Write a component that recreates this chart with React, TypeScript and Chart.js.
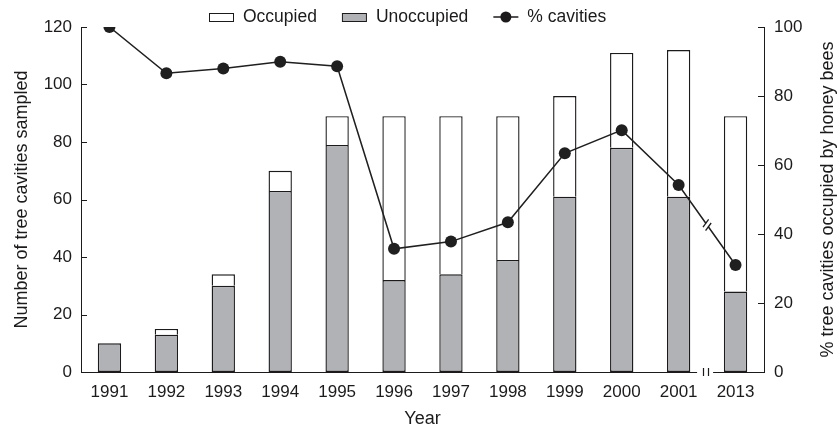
import { useEffect, useRef } from 'react';
import { Chart, registerables } from 'chart.js';

Chart.register(...registerables);

const years = ['1991', '1992', '1993', '1994', '1995', '1996', '1997', '1998', '1999', '2000', '2001', '2013'];
const unoccupied = [10, 13, 30, 63, 79, 32, 34, 39, 61, 78, 61, 28];
const occupied = [0, 2, 4, 7, 10, 57, 55, 50, 35, 33, 51, 61];
const percentOccupied = [100, 86.6, 88, 89.9, 88.6, 35.7, 37.8, 43.4, 63.4, 70.1, 54.2, 31.0];
const leftTicks = { min: 0, max: 120, step: 20 };
const rightTicks = { min: 0, max: 100, step: 20 };

const FONT = '"Liberation Sans", Arial, Helvetica, sans-serif';
const TEXT = '#1c1a1b';
const GRAY = '#b1b2b6';
const FS = 17;
const TITLE_FS = 18;
const LEGEND_FS = 17.5;

const decorPlugin = {
  id: 'decor',
  afterDatasetsDraw(chart: any) {
    const ctx = chart.ctx;
    const meta = chart.getDatasetMeta(0);
    const p1 = meta.data[10];
    const p2 = meta.data[11];
    if (!p1 || !p2) return;
    const mx = (p1.x + p2.x) / 2;
    const my = (p1.y + p2.y) / 2;
    const dx = p2.x - p1.x;
    const dy = p2.y - p1.y;
    const len = Math.hypot(dx, dy);
    const ux = dx / len, uy = dy / len;
    const nx = -uy, ny = ux;
    ctx.save();
    ctx.strokeStyle = '#ffffff';
    ctx.lineWidth = 4;
    ctx.beginPath();
    ctx.moveTo(mx - ux * 2, my - uy * 2);
    ctx.lineTo(mx + ux * 2, my + uy * 2);
    ctx.stroke();
    ctx.strokeStyle = TEXT;
    ctx.lineWidth = 1.3;
    for (const s of [-2.2, 2.2]) {
      const cx = mx + ux * s, cy = my + uy * s;
      ctx.beginPath();
      ctx.moveTo(cx - nx * 4.5 - ux * 1.5, cy - ny * 4.5 - uy * 1.5);
      ctx.lineTo(cx + nx * 4.5 + ux * 1.5, cy + ny * 4.5 + uy * 1.5);
      ctx.stroke();
    }
    ctx.restore();
  },
  afterDraw(chart: any) {
    const ctx = chart.ctx;
    const area = chart.chartArea;
    const xs = chart.scales.x;
    ctx.save();
    // axis break on the x axis between 2001 and 2013
    const bx = (xs.getPixelForValue(10) + xs.getPixelForValue(11)) / 2 - 2;
    ctx.fillStyle = '#ffffff';
    ctx.fillRect(bx - 8, area.bottom - 3, 16, 6);
    ctx.strokeStyle = TEXT;
    ctx.lineWidth = 1.2;
    for (const s of [-2.5, 2.5]) {
      ctx.beginPath();
      ctx.moveTo(Math.round(bx + s) + 0.5, area.bottom - 4);
      ctx.lineTo(Math.round(bx + s) + 0.5, area.bottom + 4);
      ctx.stroke();
    }
    // inward tick marks
    ctx.lineWidth = 1;
    const ys = chart.scales.y;
    ys.ticks.forEach((t: any) => {
      const py = Math.round(ys.getPixelForValue(t.value)) + 0.5;
      ctx.beginPath();
      ctx.moveTo(area.left, py);
      ctx.lineTo(area.left + 6, py);
      ctx.stroke();
    });
    const y1 = chart.scales.y1;
    y1.ticks.forEach((t: any) => {
      const py = Math.round(y1.getPixelForValue(t.value)) + 0.5;
      ctx.beginPath();
      ctx.moveTo(area.right - 6, py);
      ctx.lineTo(area.right, py);
      ctx.stroke();
    });
    // right axis title (reading bottom to top)
    ctx.fillStyle = TEXT;
    ctx.font = `${TITLE_FS}px ${FONT}`;
    ctx.textAlign = 'center';
    ctx.textBaseline = 'middle';
    ctx.save();
    ctx.translate(828, (area.top + area.bottom) / 2);
    ctx.rotate(-Math.PI / 2);
    ctx.fillText('% tree cavities occupied by honey bees', 0, 0);
    ctx.restore();
    // legend
    ctx.font = `${LEGEND_FS}px ${FONT}`;
    const ly = 17;
    let x = 209;
    ctx.textAlign = 'left';
    const items = [
      { text: 'Occupied', kind: 'box', fill: '#ffffff' },
      { text: 'Unoccupied', kind: 'box', fill: GRAY },
      { text: '% cavities', kind: 'line', fill: TEXT },
    ];
    for (const it of items) {
      if (it.kind === 'box') {
        ctx.fillStyle = it.fill;
        ctx.fillRect(x + 0.5, ly - 4 + 0.5, 24, 8);
        ctx.strokeStyle = TEXT;
        ctx.lineWidth = 1;
        ctx.strokeRect(x + 0.5, ly - 4 + 0.5, 24, 8);
      } else {
        ctx.strokeStyle = TEXT;
        ctx.lineWidth = 1.5;
        ctx.beginPath();
        ctx.moveTo(x, ly);
        ctx.lineTo(x + 25, ly);
        ctx.stroke();
        ctx.fillStyle = TEXT;
        ctx.beginPath();
        ctx.arc(x + 12.5, ly, 5.5, 0, Math.PI * 2);
        ctx.fill();
      }
      ctx.fillStyle = TEXT;
      ctx.fillText(it.text, x + 34, ly);
      x += 34 + ctx.measureText(it.text).width + 25;
    }
    ctx.restore();
  },
};

export default function App() {
  const ref = useRef<HTMLCanvasElement>(null);
  useEffect(() => {
    const font = { family: FONT, size: FS };
    const titleFont = { family: FONT, size: TITLE_FS };
    const chart = new Chart(ref.current as HTMLCanvasElement, {
      type: 'bar',
      data: {
        labels: years,
        datasets: [
          {
            type: 'line',
            label: '% cavities',
            data: percentOccupied,
            yAxisID: 'y1',
            order: 0,
            borderColor: '#1f1f1f',
            borderWidth: 1.5,
            pointRadius: 6,
            pointBackgroundColor: '#1f1f1f',
            pointBorderColor: '#1f1f1f',
            pointBorderWidth: 0,
            tension: 0,
          } as any,
          {
            type: 'bar',
            label: 'Unoccupied',
            data: unoccupied,
            yAxisID: 'y',
            order: 1,
            backgroundColor: GRAY,
            borderColor: TEXT,
            borderWidth: 1.4,
            borderSkipped: false,
            categoryPercentage: 1,
            barPercentage: 0.41,
          } as any,
          {
            type: 'bar',
            label: 'Occupied',
            data: occupied,
            yAxisID: 'y',
            order: 2,
            backgroundColor: '#ffffff',
            borderColor: TEXT,
            borderWidth: 1.4,
            borderSkipped: 'start',
            categoryPercentage: 1,
            barPercentage: 0.41,
          } as any,
        ],
      },
      options: {
        responsive: false,
        animation: false,
        layout: { padding: { top: 27, left: 0, right: 0, bottom: 0 } },
        plugins: { legend: { display: false }, tooltip: { enabled: false } },
        scales: {
          x: {
            stacked: true,
            offset: true,
            grid: { display: false, drawTicks: false },
            border: { display: true, color: TEXT, width: 1 },
            ticks: { color: TEXT, font, padding: 10, autoSkip: false, maxRotation: 0 },
            title: { display: true, text: 'Year', color: TEXT, font: titleFont, padding: { top: 0, bottom: 0 } },
            afterFit: (s: any) => { s.height = 58; },
          },
          y: {
            stacked: true,
            position: 'left',
            min: leftTicks.min,
            max: leftTicks.max,
            grid: { display: false, drawTicks: false },
            border: { display: true, color: TEXT, width: 1 },
            ticks: { stepSize: leftTicks.step, color: TEXT, font, padding: 9 },
            title: { display: true, text: 'Number of tree cavities sampled', color: TEXT, font: titleFont, padding: { top: 11, bottom: 0 } },
            afterFit: (s: any) => { s.width = 81; },
          },
          y1: {
            position: 'right',
            min: rightTicks.min,
            max: rightTicks.max,
            grid: { display: false, drawTicks: false },
            border: { display: true, color: TEXT, width: 1 },
            ticks: { stepSize: rightTicks.step, color: TEXT, font, padding: 10 },
            afterFit: (s: any) => { s.width = 75; },
          },
        },
      } as any,
      plugins: [decorPlugin],
    });
    return () => chart.destroy();
  }, []);
  return (
    <div style={{ position: 'absolute', left: 0, top: 0, width: 839, height: 430, background: '#fff' }}>
      <canvas ref={ref} width={839} height={430} style={{ display: 'block' }} />
    </div>
  );
}
